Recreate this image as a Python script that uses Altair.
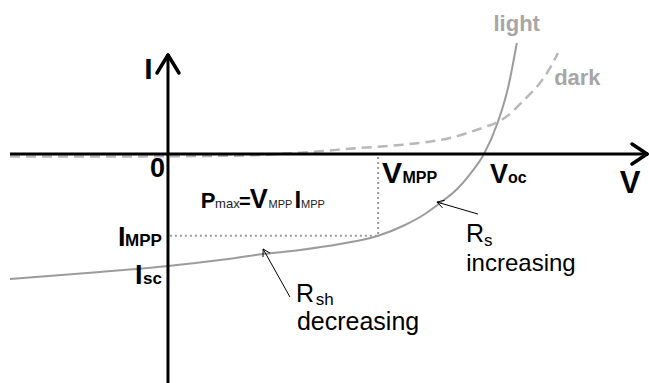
import altair as alt
import pandas as pd

# Plot window in data units: V on x, normalised current I on y (Voc = 1, Isc = -1)
V_MIN, V_MAX = -0.5316, 1.5222
I_MIN, I_MAX = -2.0446, 1.375
W, H = 649, 383

# Illuminated I-V curve
light_v = [-0.500, -0.215, 0.000, 0.165, 0.301, 0.418, 0.544, 0.665, 0.750,
           0.813, 0.861, 0.915, 0.956, 1.000, 1.044, 1.076, 1.104]
light_i = [-1.116, -1.054, -1.000, -0.946, -0.893, -0.857, -0.804, -0.730, -0.634,
           -0.536, -0.438, -0.313, -0.179, 0.000, 0.286, 0.589, 0.991]

# Dark I-V curve
dark_v = [-0.500, -0.215, 0.000, 0.259, 0.418, 0.608, 0.734, 0.820, 0.892,
          0.956, 1.003, 1.044, 1.082, 1.114, 1.146, 1.177, 1.209, 1.234]
dark_i = [-0.022, -0.022, -0.020, -0.012, 0.012, 0.054, 0.080, 0.107, 0.143,
          0.196, 0.241, 0.286, 0.357, 0.446, 0.536, 0.634, 0.768, 0.902]

# Maximum power point
V_MPP, I_MPP = 0.665, -0.730

# Axis extents
X_AXIS = (-0.500, 1.516)
Y_AXIS = (I_MIN, 0.884)

# Annotation arrows: (tail, tip)
RS_ARROW = ((0.981, -0.536), (0.851, -0.429))
RSH_ARROW = ((0.386, -1.277), (0.301, -0.848))

SX = W / (V_MAX - V_MIN)
SY = H / (I_MAX - I_MIN)


def chevron(tip, toward, back, half):
    """Two segments of an open arrowhead at `tip`, opening toward `toward` (pixel sizes)."""
    tx, ty = tip[0] * SX, -tip[1] * SY
    ox, oy = toward[0] * SX, -toward[1] * SY
    dx, dy = ox - tx, oy - ty
    n = (dx * dx + dy * dy) ** 0.5
    ux, uy = dx / n, dy / n
    px, py = -uy, ux
    segs = []
    for s in (1, -1):
        wx = tx + ux * back + s * px * half
        wy = ty + uy * back + s * py * half
        segs.append(dict(v=tip[0], i=tip[1], v2=wx / SX, i2=-wy / SY))
    return segs


xs = alt.Scale(domain=[V_MIN, V_MAX], nice=False, zero=False)
ys = alt.Scale(domain=[I_MIN, I_MAX], nice=False, zero=False)


def seg_layer(rows, **mark):
    return alt.Chart(pd.DataFrame(rows)).mark_rule(**mark).encode(
        x=alt.X("v:Q", scale=xs, axis=None),
        y=alt.Y("i:Q", scale=ys, axis=None),
        x2="v2:Q",
        y2="i2:Q",
    )


def curve_layer(vs, ins, **mark):
    df = pd.DataFrame({"v": vs, "i": ins, "k": range(len(vs))})
    return alt.Chart(df).mark_line(**mark).encode(
        x=alt.X("v:Q", scale=xs, axis=None),
        y=alt.Y("i:Q", scale=ys, axis=None),
        order="k:Q",
    )


dark = curve_layer(dark_v, dark_i, color="#b8b8b8", strokeWidth=2.5,
                   strokeDash=[10, 6], interpolate="monotone")
light = curve_layer(light_v, light_i, color="#9c9c9c", strokeWidth=2,
                    interpolate="monotone")

axes = seg_layer([
    dict(v=X_AXIS[0], i=0, v2=X_AXIS[1], i2=0),
    dict(v=0, i=Y_AXIS[0], v2=0, i2=Y_AXIS[1]),
], color="black", strokeWidth=3)

heads = seg_layer(
    chevron((X_AXIS[1], 0), (X_AXIS[0], 0), 15, 10)
    + chevron((0, Y_AXIS[1]), (0, Y_AXIS[0]), 18, 11),
    color="black", strokeWidth=3.5, strokeCap="round")

mpp = seg_layer([
    dict(v=0.006, i=I_MPP, v2=V_MPP, i2=I_MPP),
    dict(v=V_MPP, i=-0.027, v2=V_MPP, i2=I_MPP),
], color="#9a9a9a", strokeWidth=2, strokeDash=[2, 3])

pointers = seg_layer([
    dict(v=RS_ARROW[0][0], i=RS_ARROW[0][1], v2=RS_ARROW[1][0], i2=RS_ARROW[1][1]),
    dict(v=RSH_ARROW[0][0], i=RSH_ARROW[0][1], v2=RSH_ARROW[1][0], i2=RSH_ARROW[1][1]),
] + chevron(RS_ARROW[1], RS_ARROW[0], 7, 4) + chevron(RSH_ARROW[1], RSH_ARROW[0], 7, 4),
    color="black", strokeWidth=1)

# Text pieces: text, V, I, font size, weight, colour, alignment
labels = [
    ("I", -0.062, 0.670, 30, "bold", "black", "center"),
    ("0", -0.033, -0.205, 27, "bold", "black", "center"),
    ("V", 1.462, -0.348, 31, "bold", "black", "center"),
    ("V", 0.677, -0.259, 30, "bold", "black", "left"),
    ("MPP", 0.742, -0.259, 16, "bold", "black", "left"),
    ("V", 1.019, -0.259, 27, "bold", "black", "left"),
    ("oc", 1.076, -0.259, 16, "bold", "black", "left"),
    ("P", 0.104, -0.482, 22, "bold", "black", "left"),
    ("max", 0.149, -0.482, 13, "normal", "#222222", "left"),
    ("=", 0.225, -0.482, 20, "bold", "black", "left"),
    ("V", 0.259, -0.482, 27, "bold", "black", "left"),
    ("MPP", 0.318, -0.482, 11, "normal", "#222222", "left"),
    ("I", 0.400, -0.482, 24, "bold", "black", "left"),
    ("MPP", 0.421, -0.482, 11, "normal", "#222222", "left"),
    ("I", -0.158, -0.821, 27, "bold", "black", "left"),
    ("MPP", -0.136, -0.821, 17, "bold", "black", "left"),
    ("I", -0.104, -1.161, 27, "bold", "black", "left"),
    ("sc", -0.079, -1.161, 17, "bold", "black", "left"),
    ("light", 1.030, 1.098, 22, "bold", "#a6a6a6", "left"),
    ("dark", 1.222, 0.616, 22, "bold", "#a6a6a6", "left"),
    ("R", 0.943, -0.786, 25, "normal", "black", "left"),
    ("s", 1.000, -0.821, 17, "normal", "black", "left"),
    ("increasing", 0.944, -1.045, 24, "normal", "black", "left"),
    ("R", 0.405, -1.321, 25, "normal", "black", "left"),
    ("sh", 0.468, -1.348, 17, "normal", "black", "left"),
    ("decreasing", 0.408, -1.572, 25, "normal", "black", "left"),
]

texts = []
for txt, v, i, size, weight, color, align in labels:
    texts.append(
        alt.Chart(pd.DataFrame({"v": [v], "i": [i], "t": [txt]})).mark_text(
            font="Liberation Sans", fontSize=size, fontWeight=weight,
            color=color, align=align, baseline="alphabetic",
        ).encode(
            x=alt.X("v:Q", scale=xs, axis=None),
            y=alt.Y("i:Q", scale=ys, axis=None),
            text="t:N",
        )
    )

chart = alt.layer(dark, mpp, light, axes, heads, pointers, *texts).properties(
    width=W, height=H, padding=0, autosize="none", background="white"
).configure_view(stroke=None)

chart.save("out.html", embed_options={"renderer": "svg", "actions": False})
